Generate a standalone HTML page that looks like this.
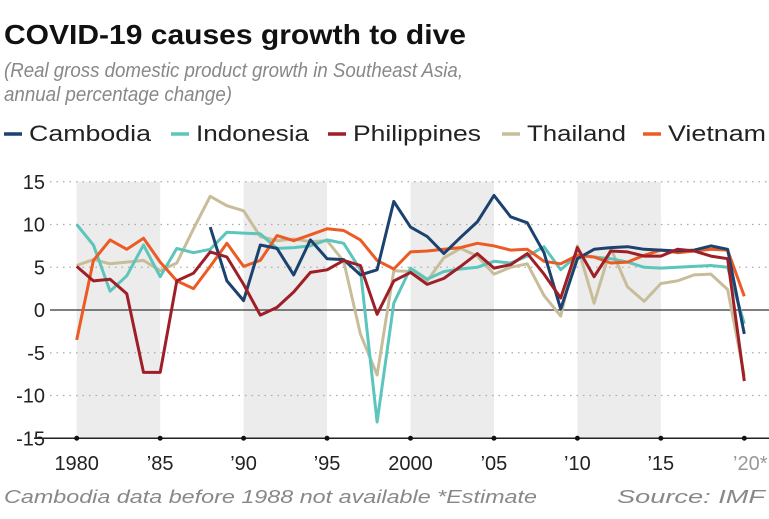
<!DOCTYPE html>
<html><head><meta charset="utf-8">
<style>
body{margin:0;background:#fff;width:769px;height:514px;overflow:hidden;font-family:"Liberation Sans",sans-serif}
</style></head>
<body>
<svg width="769" height="514" xmlns="http://www.w3.org/2000/svg">
<text x="4" y="44" font-size="28" font-weight="bold" fill="#111" textLength="462" lengthAdjust="spacingAndGlyphs">COVID-19 causes growth to dive</text>
<text x="4" y="77" font-size="20" font-style="italic" fill="#888" textLength="459" lengthAdjust="spacingAndGlyphs">(Real gross domestic product growth in Southeast Asia,</text>
<text x="4" y="101" font-size="20" font-style="italic" fill="#888" textLength="228" lengthAdjust="spacingAndGlyphs">annual percentage change)</text>
<g id="legend"></g>
<g id="plot"></g>
<text x="4" y="503" font-size="18" font-style="italic" fill="#888" textLength="533" lengthAdjust="spacingAndGlyphs">Cambodia data before 1988 not available  *Estimate</text>
<text x="765" y="503" font-size="18" font-style="italic" fill="#888" text-anchor="end" textLength="148" lengthAdjust="spacingAndGlyphs">Source: IMF</text>
</svg>
<script>
const years=[];for(let y=1980;y<=2020;y++)years.push(y);
const cambodia=[null,null,null,null,null,null,null,null,9.7,3.4,1.1,7.6,7.2,4.1,8.2,6.0,5.9,4.1,4.7,12.7,9.7,8.6,6.6,8.5,10.3,13.4,10.9,10.2,6.7,0.1,6.0,7.1,7.3,7.4,7.1,7.0,6.9,7.0,7.5,7.1,-2.8];
const indonesia=[10.0,7.6,2.2,4.0,7.6,3.9,7.2,6.7,7.1,9.1,9.0,8.9,7.2,7.3,7.5,8.2,7.8,4.7,-13.1,0.8,4.9,3.6,4.5,4.8,5.0,5.7,5.5,6.3,7.4,4.7,6.4,6.2,6.0,5.6,5.0,4.9,5.0,5.1,5.2,5.0,-1.6];
const philippines=[5.1,3.4,3.6,1.9,-7.3,-7.3,3.4,4.3,6.8,6.2,3.0,-0.6,0.3,2.1,4.4,4.7,5.8,5.2,-0.5,3.4,4.4,3.0,3.7,5.1,6.6,4.9,5.3,6.6,4.2,1.4,7.3,3.9,6.9,6.8,6.3,6.3,7.1,6.9,6.3,6.0,-8.3];
const thailand=[5.2,5.9,5.4,5.6,5.8,4.6,5.5,9.5,13.3,12.2,11.6,8.6,8.1,8.3,8.0,8.1,5.7,-2.8,-7.6,4.6,4.5,3.4,6.1,7.2,6.3,4.2,5.0,5.4,1.7,-0.7,7.5,0.8,7.2,2.7,1.0,3.1,3.4,4.1,4.2,2.4,-7.7];
const vietnam=[-3.5,5.8,8.2,7.1,8.4,5.6,3.4,2.5,5.1,7.8,5.1,5.8,8.7,8.1,8.8,9.5,9.3,8.2,5.8,4.8,6.8,6.9,7.1,7.3,7.8,7.5,7.0,7.1,5.7,5.4,6.4,6.2,5.5,5.6,6.4,7.0,6.7,6.9,7.1,7.0,1.6];
const yTicks=[15,10,5,0,-5,-10,-15];
const xTicks=[1980,1985,1990,1995,2000,2005,2010,2015,2020];
const xLabels=["1980","\u201985","\u201990","\u201995","2000","\u201905","\u201910","\u201915","\u201920*"];
const bands=[[1980,1985],[1990,1995],[2000,2005],[2010,2015]];
const seriesNames=["Cambodia","Indonesia","Philippines","Thailand","Vietnam"];
const seriesData=[cambodia,indonesia,philippines,thailand,vietnam];
const colors=["#1c426f","#5cc5bc","#9e1f27","#c8bd9a","#ec5b23"];
const drawOrder=[3,1,4,0,2];
const NS="http://www.w3.org/2000/svg";
const X=y=>76.7+(y-1980)*16.69;
const Y=v=>310-v*8.55;
const plot=document.getElementById('plot');
function mk(tag,attrs,parent){const e=document.createElementNS(NS,tag);for(const k in attrs)e.setAttribute(k,attrs[k]);(parent||plot).appendChild(e);return e;}
bands.forEach(b=>{const r=mk('rect',{x:X(b[0]),y:Y(15),width:X(b[1])-X(b[0]),height:Y(-15)-Y(15),fill:'#ececec'});

});
yTicks.forEach(t=>{
 if(t!==-15&&t!==0){const l=mk('line',{x1:50,x2:769,y1:Y(t),y2:Y(t),stroke:'#aaa','stroke-width':1.3,'stroke-dasharray':'1.5 5'});
 
 }
 const tx=mk('text',{x:45,y:Y(t)+7,'font-size':20,'text-anchor':'end',fill:'#222'});tx.textContent=t;
 
 
});
const z=mk('line',{x1:50,x2:769,y1:Y(0),y2:Y(0),stroke:'#555','stroke-width':1.5});


const ax=mk('line',{x1:34,x2:769,y1:Y(-15),y2:Y(-15),stroke:'#222','stroke-width':1.5});


xTicks.forEach((t,i)=>{
 const c=mk('circle',{cx:X(t),cy:Y(-15),r:2.5,fill:'#111'});
 
 
 const tx=mk('text',{x:X(t)+(t===2020?6:0),y:470,'font-size':20,'text-anchor':'middle',fill:t===2020?'#999':'#222'});tx.textContent=xLabels[i];
 
 
});
drawOrder.forEach(si=>{
 const d=seriesData[si];let p='';
 d.forEach((v,i)=>{if(v===null)return;p+=(p?'L':'M')+X(years[i]).toFixed(1)+' '+Y(v).toFixed(1);});
 const path=mk('path',{d:p,fill:'none',stroke:colors[si],'stroke-width':3,'stroke-linejoin':'round'});
 
 
});
const lg=document.getElementById('legend');
const lx=[4,171,328,502,643];
const lw=[122,113,128,99,98];
seriesNames.forEach((n,i)=>{
 const l=mk('line',{x1:lx[i],x2:lx[i]+18,y1:134,y2:134,stroke:colors[i],'stroke-width':3.5},lg);
 
 
 const t=mk('text',{x:lx[i]+25,y:141,'font-size':22,fill:'#222',textLength:lw[i],lengthAdjust:'spacingAndGlyphs'},lg);t.textContent=n;
 
 
});
</script>
</body></html>
